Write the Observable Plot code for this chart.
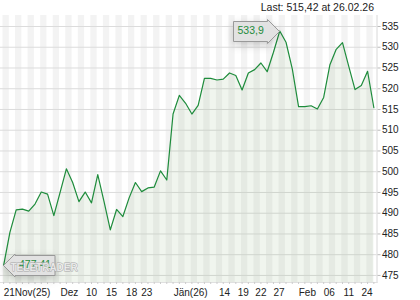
<!DOCTYPE html>
<html><head><meta charset="utf-8">
<script src="https://cdn.jsdelivr.net/npm/d3@7"></script>
<script src="https://cdn.jsdelivr.net/npm/@observablehq/plot@0.6"></script>
<style>
body{margin:0;background:#fff;}
#wrap{position:relative;width:420px;height:300px;}
#c svg{display:block;font-family:"Liberation Sans",Arial,sans-serif;}
#last{position:absolute;right:46px;top:0px;font:10.5px "Liberation Sans",Arial,sans-serif;color:#222;line-height:14px;white-space:nowrap;}
g[aria-label="tip"] text{fill:#1e8c3c;}
</style>
</head><body><div id="wrap"><div id="c"></div><div id="last"></div></div>
<script>
const values = [477.41, 485.4, 490.8, 491.0, 490.5, 492.2, 495.1, 494.6, 489.4, 495.0,
  500.7, 497.4, 492.8, 495.1, 492.5, 499.3, 492.8, 486.0, 490.9, 489.2,
  493.7, 497.4, 495.2, 496.1, 496.3, 500.2, 498.0, 513.9, 518.4, 516.5,
  513.9, 516.0, 522.5, 522.5, 522.1, 522.3, 523.8, 523.2, 519.7, 523.8,
  524.6, 526.2, 524.1, 528.8, 533.9, 531.2, 524.8, 515.7, 515.7, 515.9,
  515.1, 517.9, 525.8, 529.5, 531.1, 525.4, 519.8, 520.8, 524.2, 515.42];
const xTickPos = [3.73, 10.48, 14.0, 17.2, 20.4, 22.8, 29.8, 35.2, 38.2, 41.0, 43.9, 48.4, 51.9, 55.0, 57.9];
const xTickLabels = ["21Nov(25)", "Dez", "10", "15", "18", "23", "Jän(26)", "14", "19", "22", "27", "Feb", "06", "11", "24"];
const yTicks = [475, 480, 485, 490, 495, 500, 505, 510, 515, 520, 525, 530, 535];
const lastDate = "26.02.26";

const fmt = v => String(v).replace(".", ",");
const data = values.map((v, i) => ({i, v}));
const n = values.length;
const maxI = values.indexOf(Math.max(...values));
const stripes = d3.range(0, n - 1, 2);
const labelMap = new Map(xTickPos.map((p, k) => [p, xTickLabels[k]]));
const green = "#1e8c3c";

const chart = Plot.plot({
  width: 420, height: 300,
  marginLeft: 0, marginRight: 43.5, marginTop: 15, marginBottom: 18,
  style: {fontSize: "10px", fontFamily: "'Liberation Sans', Arial, sans-serif", color: "#222", background: "#fff"},
  x: {domain: [-0.5, n - 0.5], label: null},
  y: {domain: [473.3, 537.65], label: null},
  marks: [
    Plot.rect(stripes, {x1: d => d - 0.1, x2: d => d + 0.9, fill: "#f3f3f3"}),
    Plot.gridY(yTicks, {stroke: "#dcdcdc", strokeOpacity: 1}),
    Plot.areaY(data, {x: "i", y: "v", fill: "#6a9a5a", fillOpacity: 0.1, clip: true}),
    Plot.lineY(data, {x: "i", y: "v", stroke: green, strokeWidth: 1.2}),
    Plot.frame({anchor: "right", stroke: "#d8d8d8"}),
    Plot.frame({anchor: "bottom", stroke: "#e0e0e0"}),
    Plot.axisY(yTicks, {anchor: "right", label: null, tickSize: 3, tickPadding: 2, stroke: "#bbb", fill: "#222", fontSize: 10}),
    Plot.axisX(d3.range(n), {anchor: "bottom", label: null, tickSize: 2, stroke: "#ccc", fill: "none"}),
    Plot.axisX(xTickPos, {anchor: "bottom", label: null, tickSize: 0, tickPadding: 6, fontSize: 10, fill: "#222", tickFormat: d => labelMap.get(d)}),
    Plot.tip([data[maxI]], {x: "i", y: "v", title: d => fmt(d.v), anchor: "right", fill: "#e2e2e2", stroke: "#999", fontSize: 10.5, pointerSize: 24, textPadding: 4}),
    Plot.tip([data[0]], {x: "i", y: "v", title: d => fmt(d.v), anchor: "left", fill: "#e2e2e2", stroke: "#999", fontSize: 10.5, pointerSize: 23, textPadding: 4}),
    Plot.text(["TELETRADER"], {frameAnchor: "bottom-left", dx: 10, dy: -12, textAnchor: "start", fontSize: 10, fontWeight: "bold", fill: "#fff", fillOpacity: 0.7, stroke: "#a8a8a8", strokeWidth: 0.9})
  ]
});
document.getElementById("c").appendChild(chart);
document.getElementById("last").textContent = `Last: ${fmt(values[n - 1])} at ${lastDate}`;
</script>
</body></html>
